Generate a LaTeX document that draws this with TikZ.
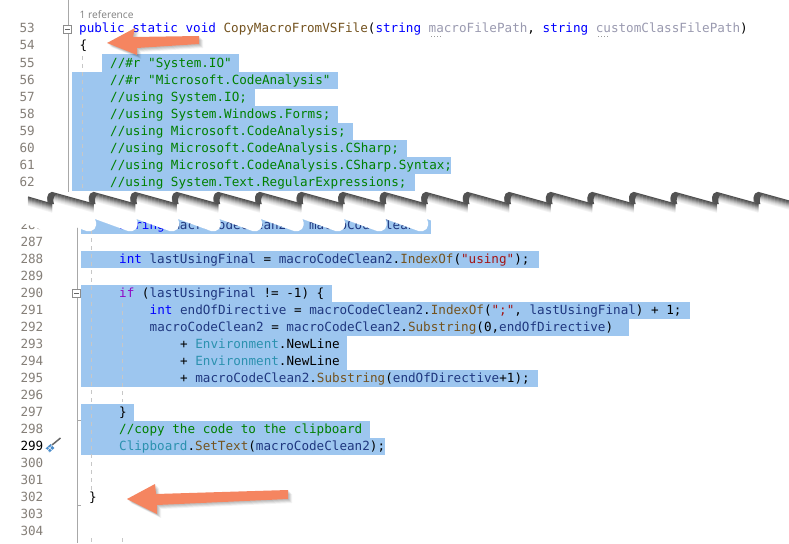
\documentclass[tikz,border=0pt]{standalone}
\usepackage{fontspec}
\newfontfamily\codefont{DejaVu Sans Mono}
\newfontfamily\uifont{Open Sans}
\definecolor{sel}{HTML}{9DC6EF}
\definecolor{kw}{HTML}{0000FF}
\definecolor{cm}{HTML}{008000}
\definecolor{meth}{HTML}{74531F}
\definecolor{typ}{HTML}{2B91AF}
\definecolor{vr}{HTML}{1F377F}
\definecolor{ctl}{HTML}{8F08C4}
\definecolor{strc}{HTML}{A31515}
\definecolor{par}{HTML}{9A9AB0}
\definecolor{numc}{HTML}{857F78}
\definecolor{gut}{HTML}{A8A8A8}
\definecolor{arrowc}{HTML}{F58560}
\definecolor{driver}{HTML}{4A8CCB}
\newcommand{\K}[1]{\textcolor{kw}{#1}}
\newcommand{\Cm}[1]{\textcolor{cm}{#1}}
\newcommand{\Me}[1]{\textcolor{meth}{#1}}
\newcommand{\Ty}[1]{\textcolor{typ}{#1}}
\newcommand{\Vr}[1]{\textcolor{vr}{#1}}
\newcommand{\Pa}[1]{\textcolor{par}{#1}}
\newcommand{\St}[1]{\textcolor{strc}{#1}}
\newcommand{\selrow}[3]{\fill[sel] (#1,#2) rectangle (#3,#2+17);}
\tikzset{
  x=1pt,y=-1pt,
  code/.style={anchor=base west,inner sep=0pt,font=\codefont\fontsize{12.62}{15}\selectfont\frenchspacing},
  num/.style={anchor=base east,inner sep=0pt,text=numc,font=\codefont\fontsize{12.62}{15}\selectfont},
  gutline/.style={draw=gut,line width=1pt},
  guide/.style={draw=black!22,line width=0.7pt,dash pattern=on 4pt off 4pt},
  foldbox/.style={draw=black!45,fill=white,line width=0.6pt,minimum size=8pt,inner sep=0pt},
  arrowshape/.style={fill=arrowc},
}
\begin{document}
\begin{tikzpicture}
\useasboundingbox (0,0) rectangle (789,543);
\fill[white] (0,0) rectangle (789,543);
% selection, upper part
\selrow{102}{54.5}{239}
\selrow{72}{71.5}{338}
\selrow{72}{88.5}{255}
\selrow{72}{105.5}{338}
\selrow{72}{122.5}{353}
\selrow{72}{139.5}{407}
\selrow{72}{156.5}{451}
\selrow{72}{173.5}{415}
% selection, lower part
\selrow{81}{217}{431}
\selrow{81}{251}{539}
\selrow{81}{284.5}{332}
\selrow{81}{301.5}{690}
\selrow{81}{318.5}{629}
\selrow{81}{335.5}{347}
\selrow{81}{352.5}{347}
\selrow{81}{369.5}{538}
\selrow{81}{403.5}{134}
\selrow{81}{420.5}{370}
\selrow{81}{437.5}{385}
% gutters
\draw[gutline] (68,0) -- (68,197);
\draw[gutline] (77,224) -- (77,543);
\draw[gut,line width=0.7pt] (77,420.5) -- (81,420.5);
\draw[gut,line width=0.7pt] (77,505) -- (81,505);
% guides
\draw[guide] (82.5,56) -- (82.5,200);
\draw[guide] (91.5,222) -- (91.5,490);
\draw[guide] (122.5,303) -- (122.5,402);
\draw[guide] (91.5,538) -- (91.5,543);
\draw[guide] (122.5,538) -- (122.5,543);
% line numbers
\begin{scope}
\clip (0,0) rectangle (60,197.5);
\node[num] (n52) at (35,-1) {52};
\foreach \n in {53,...,63}{
  \pgfmathsetmacro{\yy}{33+(\n-53)*17}
  \node[num] (n\n) at (35,\yy) {\n};
}
\end{scope}
\foreach \n in {286,287,288,289,290,291,292,293,294,295,296,297,298,300,301,302,303,304}{
  \pgfmathsetmacro{\yy}{263+(\n-288)*17}
  \node[num] (n\n) at (43.5,\yy) {\n};
}
\node[num,text=black] (n299) at (43.5,450) {299};
% code
\node[anchor=base west,inner sep=0pt,text=black!50,font=\uifont\fontsize{10.2}{12}\selectfont] (refs) at (79.5,19) {1 reference};
\node[code] (c53) at (79,33) {\K{public static void} \Me{CopyMacroFromVSFile}(\K{string} \Pa{macroFilePath}, \K{string} \Pa{customClassFilePath})};
\node[code] (c54) at (79.5,50) {\{};
\node[code] (c55) at (110,67) {\Cm{//\#r "System.IO"}};
\node[code] (c56) at (110,84) {\Cm{//\#r "Microsoft.CodeAnalysis"}};
\node[code] (c57) at (110,101) {\Cm{//using System.IO;}};
\node[code] (c58) at (110,118) {\Cm{//using System.Windows.Forms;}};
\node[code] (c59) at (110,135) {\Cm{//using Microsoft.CodeAnalysis;}};
\node[code] (c60) at (110,152) {\Cm{//using Microsoft.CodeAnalysis.CSharp;}};
\node[code] (c61) at (110,169) {\Cm{//using Microsoft.CodeAnalysis.CSharp.Syntax;}};
\node[code] (c62) at (110,186) {\Cm{//using System.Text.RegularExpressions;}};
\node[code] (c286) at (119,229) {\K{string} \Vr{macroCodeClean2} = \Vr{macroCodeClean};};
\node[code] (c288) at (119,263) {\K{int} \Vr{lastUsingFinal} = \Vr{macroCodeClean2}.\Me{IndexOf}(\St{"using"});};
\node[code] (c290) at (119,297) {\textcolor{ctl}{if} (\Vr{lastUsingFinal} != -1) \{};
\node[code] (c291) at (149.5,314) {\K{int} \Vr{endOfDirective} = \Vr{macroCodeClean2}.\Me{IndexOf}(\St{";"}, \Vr{lastUsingFinal}) + 1;};
\node[code] (c292) at (149.5,331) {\Vr{macroCodeClean2} = \Vr{macroCodeClean2}.\Me{Substring}(0,\Vr{endOfDirective})};
\node[code] (c293) at (180,348) {+ \Ty{Environment}.NewLine};
\node[code] (c294) at (180,365) {+ \Ty{Environment}.NewLine};
\node[code] (c295) at (180,382) {+ \Vr{macroCodeClean2}.\Me{Substring}(\Vr{endOfDirective}+1);};
\node[code] (c297) at (119,416) {\}};
\node[code] (c298) at (119,433) {\Cm{//copy the code to the clipboard}};
\node[code] (c299) at (119,450) {\Ty{Clipboard}.\Me{SetText}(\Vr{macroCodeClean2});};
\node[code] (c302) at (89,501) {\}};
% squiggles under parameters
\draw[black!40,line width=0.8pt,dash pattern=on 1pt off 2pt] (431,36.5) -- (441,36.5);
\draw[black!40,line width=0.8pt,dash pattern=on 1pt off 2pt] (598,36.5) -- (608,36.5);
% fold boxes
\node[foldbox] (fa) at (67.5,29) {};
\draw[black!60,line width=0.7pt] (65,29) -- (70,29);
\node[foldbox] (fb) at (76.5,293.5) {};
\draw[black!60,line width=0.7pt] (74,293.5) -- (79,293.5);
% screwdriver icon
\draw[black!60,line width=1.5pt] (52,445) -- (60.5,438);
\draw[driver,line width=5.5pt] (47.5,450.5) -- (52.5,446);
\draw[white,line width=0.5pt] (46,449) -- (50.5,453) (48.5,447) -- (53,451) (46,452) -- (52.5,445);
% torn gap
\fill[white] (0,192) rectangle (789,219);
\foreach \t in {12,53.5,...,440}{
  \fill[white] (\t,214) -- (\t,219) -- (\t+33,231) .. controls (\t+39,232.5) and (\t+45.5,228) .. (\t+41.5,219) -- (\t+41.5,214) -- cycle;
}
% torn edge, with shadow fading downwards
\foreach \o/\c in {8/5,7/10,6/16,5/24,4/32,3/42,2/52,1/60,0/68}{
  \begin{scope}[shift={(0,\o)}]
    \draw[black!\c,line width=1.2pt,line join=round] (28,197) -- (52,204);
    \foreach \t in {52,93.55,...,800}{
      \draw[black!\c,line width=1.2pt,line join=round] (\t,204) .. controls (\t-6,201) and (\t-5,193) .. (\t,192.5) -- (\t+41.5,204);
    }
  \end{scope}
}
% white above the torn edge again, between the teeth
\foreach \t in {52,93.55,...,800}{
  \fill[black!68] (\t,204) .. controls (\t-6,201) and (\t-5,193) .. (\t,192.5) -- (\t+4,194) .. controls (\t+1,197) and (\t+1,201) .. (\t+2,204) -- cycle;
}
% arrows
\foreach \o/\q in {4/0.05,3/0.07,2/0.08,1/0.08}{
  \fill[black,opacity=\q] (107+\o,43+\o) -- (135+\o,28+\o) -- (133+\o,37+\o) -- (199+\o,36+\o) -- (199+\o,44+\o) -- (137+\o,48+\o) -- (137+\o,55+\o) -- cycle;
  \fill[black,opacity=\q] (127+\o,499+\o) -- (155+\o,484+\o) -- (156+\o,494+\o) -- (288+\o,490+\o) -- (288+\o,499+\o) -- (157+\o,505+\o) -- (157+\o,514+\o) -- cycle;
}
\fill[arrowshape] (107,43) -- (135,28) -- (133,37) -- (199,36) -- (199,44) -- (137,48) -- (137,55) -- cycle;
\fill[arrowshape] (127,499) -- (155,484) -- (156,494) -- (288,490) -- (288,499) -- (157,505) -- (157,514) -- cycle;
\end{tikzpicture}
\end{document}
